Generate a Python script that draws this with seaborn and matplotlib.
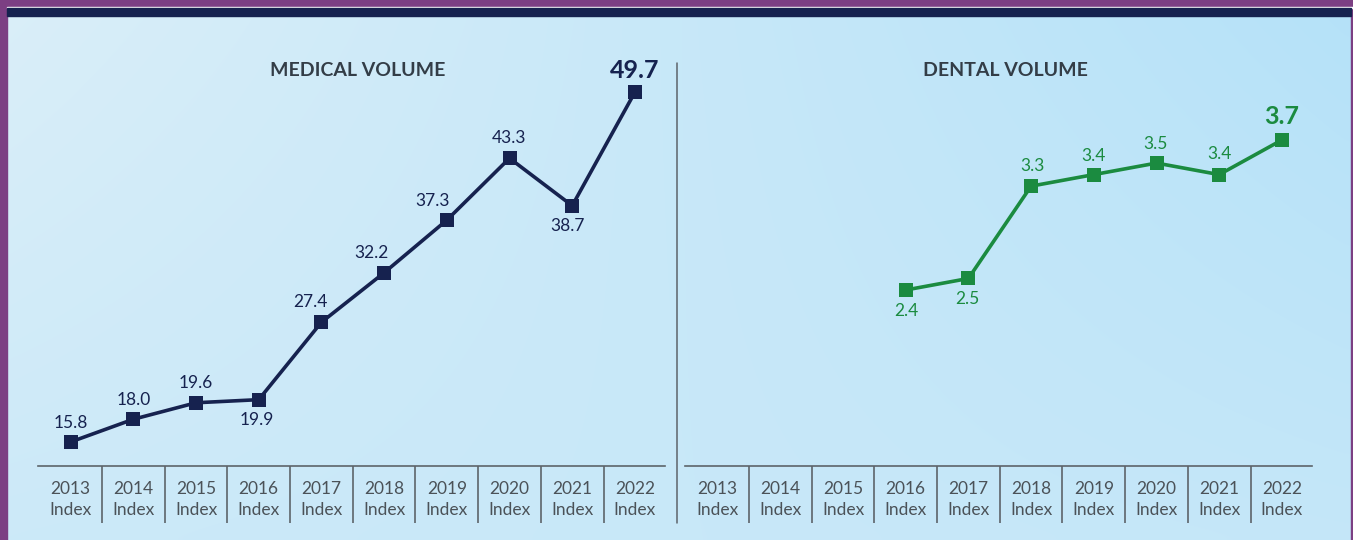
import numpy as np
import pandas as pd
import matplotlib
matplotlib.use("Agg")
import matplotlib.pyplot as plt
import seaborn as sns
from matplotlib.patches import Rectangle
from matplotlib.lines import Line2D

# ---------------- data ----------------
years = ["2013", "2014", "2015", "2016", "2017", "2018", "2019", "2020", "2021", "2022"]
tick_labels = [f"{y}\nIndex" for y in years]
medical_values = [15.8, 18.0, 19.6, 19.9, 27.4, 32.2, 37.3, 43.3, 38.7, 49.7]
dental_values = [np.nan, np.nan, np.nan, 2.4, 2.5, 3.3, 3.4, 3.5, 3.4, 3.7]
panel_titles = ["MEDICAL VOLUME", "DENTAL VOLUME"]

# ---------------- layout (pixels) ----------------
W, H = 1353, 540
med_label_offsets = [(0, 19), (0, 19), (0, 20), (-2, -20), (-11, 20),
                     (-13, 20), (-14, 19), (0, 20), (-5, -20), (0, 22)]
den_label_offsets = [None, None, None, (1, -21), (-1, -21), (1, 20),
                     (0, 19), (-1, 19), (0, 21), (0, 23)]

NAVY = "#16224f"
GREEN = "#1b8b40"
TITLE_C = "#333d47"
TICK_C = "#4b5258"
AXIS_C = "#5d646a"
PURPLE = "#7c3f83"

sns.set_theme(style="white")
plt.rcParams["font.family"] = ["Lato", "DejaVu Sans"]

fig = plt.figure(figsize=(W / 100, H / 100), dpi=100)
fig.patch.set_facecolor("#d6eef9")


def fx(px):
    return px / W


def fy(py):
    return 1 - py / H


# background gradient
bg = fig.add_axes([0, 0, 1, 1], zorder=-10)
ny, nx = 60, 120
tl = np.array([0.855, 0.935, 0.975])
tr = np.array([0.71, 0.885, 0.975])
bl = np.array([0.80, 0.915, 0.975])
br = np.array([0.77, 0.905, 0.975])
u = np.linspace(0, 1, nx)[None, :, None]
v = np.linspace(0, 1, ny)[:, None, None]
grad = (1 - u) * (1 - v) * tl + u * (1 - v) * tr + (1 - u) * v * bl + u * v * br
bg.imshow(grad, aspect="auto", extent=[0, 1, 0, 1], origin="upper", interpolation="bicubic")
bg.set_xlim(0, 1)
bg.set_ylim(0, 1)
bg.axis("off")

# frame decorations
fig.add_artist(Rectangle((0, 0), fx(7), 1, transform=fig.transFigure, color=PURPLE, zorder=5))
fig.add_artist(Rectangle((fx(W - 2), 0), fx(2), 1, transform=fig.transFigure, color=PURPLE, zorder=5))
fig.add_artist(Rectangle((0, fy(7)), 1, 7 / H, transform=fig.transFigure, color=PURPLE, zorder=5))
fig.add_artist(Rectangle((fx(7), fy(8)), 1, 1 / H, transform=fig.transFigure, color="white", zorder=5))
fig.add_artist(Rectangle((fx(7), fy(16)), fx(W - 9), 8 / H, transform=fig.transFigure, color="#16224f", zorder=5))

# divider
fig.add_artist(Line2D([fx(677), fx(677)], [fy(63), fy(523)], transform=fig.transFigure,
                      color=AXIS_C, linewidth=1.1))


def make_panel(left, right, ylim, values, color, offsets, title, title_x):
    ax = fig.add_axes([fx(left), fy(466), fx(right - left), (466 - 60) / H])
    ax.patch.set_alpha(0)
    df = pd.DataFrame({"pos": np.arange(len(years)), "value": values}).dropna()
    sns.lineplot(data=df, x="pos", y="value", ax=ax, color=color, linewidth=2.6,
                 marker="s", markersize=10, markeredgewidth=0, legend=False)
    ax.set_xlim(-0.52, len(years) - 0.52)
    ax.set_ylim(*ylim)
    for s in ["left", "right", "top"]:
        ax.spines[s].set_visible(False)
    ax.spines["bottom"].set_color(AXIS_C)
    ax.spines["bottom"].set_linewidth(1.2)
    ax.set_yticks([])
    ax.set_xticks(np.arange(len(years)))
    ax.set_xticklabels(tick_labels, color=TICK_C, fontsize=12.5, linespacing=1.38)
    ax.set_xticks(np.arange(len(years) - 1) + 0.5, minor=True)
    ax.tick_params(axis="x", which="major", length=0, pad=11)
    ax.tick_params(axis="x", which="minor", length=41, width=1.2, color=AXIS_C, direction="out",
                   bottom=True)
    ax.set_xlabel("")
    ax.set_ylabel("")
    ax.grid(False)
    n = len(values)
    for i, val in enumerate(values):
        if np.isnan(val):
            continue
        off = offsets[i]
        last = i == n - 1
        ax.annotate(f"{val:.1f}", (i, val), xytext=off, textcoords="offset pixels",
                    ha="center", va="center", color=color,
                    fontsize=18 if last else 12.5,
                    fontweight="bold" if last else "normal", zorder=6)
    fig.text(fx(title_x), fy(71), title, ha="center", va="center", color=TITLE_C,
             fontsize=14, fontweight="bold")
    return ax


make_panel(38, 665, (13.47, 52.82), medical_values, NAVY, med_label_offsets, panel_titles[0], 358)
make_panel(685, 1312, (0.875, 4.393), dental_values, GREEN, den_label_offsets, panel_titles[1], 1005)

fig.savefig("out.png", dpi=100)
